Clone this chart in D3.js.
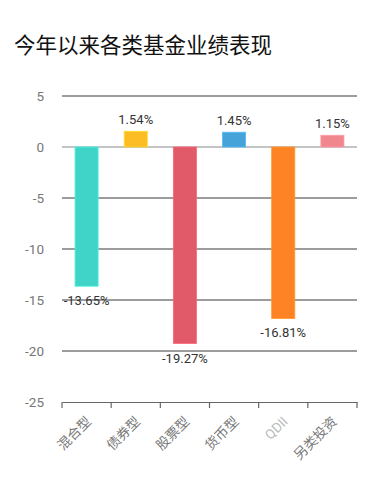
<!DOCTYPE html>
<html>
<head>
<meta charset="utf-8">
<script src="https://cdn.jsdelivr.net/npm/d3@7"></script>
<style>
  body { margin: 0; background: #fff; }
  svg text { font-family: Roboto, "Noto Sans CJK SC", sans-serif; }
</style>
</head>
<body>
<div id="vis"></div>
<script>
const FRAME_HEIGHT = 480;
const FRAME_WIDTH = 383;
const MARGINS = {left: 62, right: 26, top: 96, bottom: 78};

const VIS_HEIGHT = FRAME_HEIGHT - MARGINS.top - MARGINS.bottom;
const VIS_WIDTH = FRAME_WIDTH - MARGINS.left - MARGINS.right;

// data
const categories = ["混合型", "债券型", "股票型", "货币型", "QDII", "另类投资"];
const values = [-13.65, 1.54, -19.27, 1.45, -16.81, 1.15];
const colors = ["#40d4c8", "#fbbd23", "#e05a6a", "#46a3d9", "#fd8324", "#f0878f"];
const yTicks = [5, 0, -5, -10, -15, -20, -25];

const FRAME = d3.select("#vis")
  .append("svg")
    .attr("height", FRAME_HEIGHT)
    .attr("width", FRAME_WIDTH);

// title
FRAME.append("text")
  .attr("x", 14)
  .attr("y", 53)
  .attr("font-size", 21.5)
  .attr("fill", "#111")
  .style("font-family", "'Noto Sans CJK SC', sans-serif")
  .text("今年以来各类基金业绩表现");

const g = FRAME.append("g")
  .attr("transform", `translate(${MARGINS.left},${MARGINS.top})`);

const x_scale = d3.scaleBand()
  .domain(categories)
  .range([0, VIS_WIDTH])
  .paddingInner(0.53)
  .paddingOuter(0.265);

const y_scale = d3.scaleLinear()
  .domain([-25, 5])
  .range([VIS_HEIGHT, 0]);

// grid lines
g.selectAll(".grid")
  .data(yTicks.filter(d => d !== -25))
  .join("line")
    .attr("x1", 0)
    .attr("x2", VIS_WIDTH)
    .attr("y1", d => y_scale(d))
    .attr("y2", d => y_scale(d))
    .attr("stroke", d => d === 0 ? "#8a8a8a" : "#3a3a3a")
    .attr("stroke-width", 1.2);

// y axis labels
g.selectAll(".ylab")
  .data(yTicks)
  .join("text")
    .attr("x", -18)
    .attr("y", d => y_scale(d))
    .attr("dy", "0.35em")
    .attr("text-anchor", "end")
    .attr("font-size", 13.5)
    .attr("fill", "#777")
    .text(d => d);

// bars
g.selectAll(".bar")
  .data(values)
  .join("rect")
    .attr("x", (d, i) => x_scale(categories[i]))
    .attr("width", x_scale.bandwidth())
    .attr("y", d => y_scale(Math.max(0, d)))
    .attr("height", d => Math.abs(y_scale(d) - y_scale(0)))
    .attr("fill", (d, i) => colors[i])
    .attr("stroke", (d, i) => d3.color(colors[i]).brighter(0.4))
    .attr("stroke-width", 0.8);

// value labels
g.selectAll(".vlab")
  .data(values)
  .join("text")
    .attr("x", (d, i) => x_scale(categories[i]) + x_scale.bandwidth() / 2)
    .attr("y", d => d >= 0 ? y_scale(d) - 7 : y_scale(d) + 19)
    .attr("text-anchor", "middle")
    .attr("font-size", 13)
    .attr("fill", "#333")
    .text(d => d.toFixed(2) + "%");

// x axis
const xAxis = g.append("g")
  .attr("transform", `translate(0,${VIS_HEIGHT})`)
  .call(d3.axisBottom(x_scale).tickSize(0).tickFormat(""));
xAxis.select(".domain").attr("stroke", "#666").attr("stroke-width", 1.2);

const edges = d3.range(categories.length + 1).map(i => i * VIS_WIDTH / categories.length);
xAxis.selectAll(".edge")
  .data(edges)
  .join("line")
    .attr("x1", d => d)
    .attr("x2", d => d)
    .attr("y1", 0)
    .attr("y2", 6)
    .attr("stroke", "#666")
    .attr("stroke-width", 1.2);

xAxis.selectAll(".xlab")
  .data(categories)
  .join("text")
    .attr("transform", d => `translate(${x_scale(d) + x_scale.bandwidth() / 2 + 2},${17}) rotate(-45)`)
    .attr("text-anchor", "end")
    .attr("dy", "0.35em")
    .attr("font-size", 13.5)
    .attr("fill", d => d === "QDII" ? "#bbb" : "#777")
    .text(d => d);
</script>
</body>
</html>
